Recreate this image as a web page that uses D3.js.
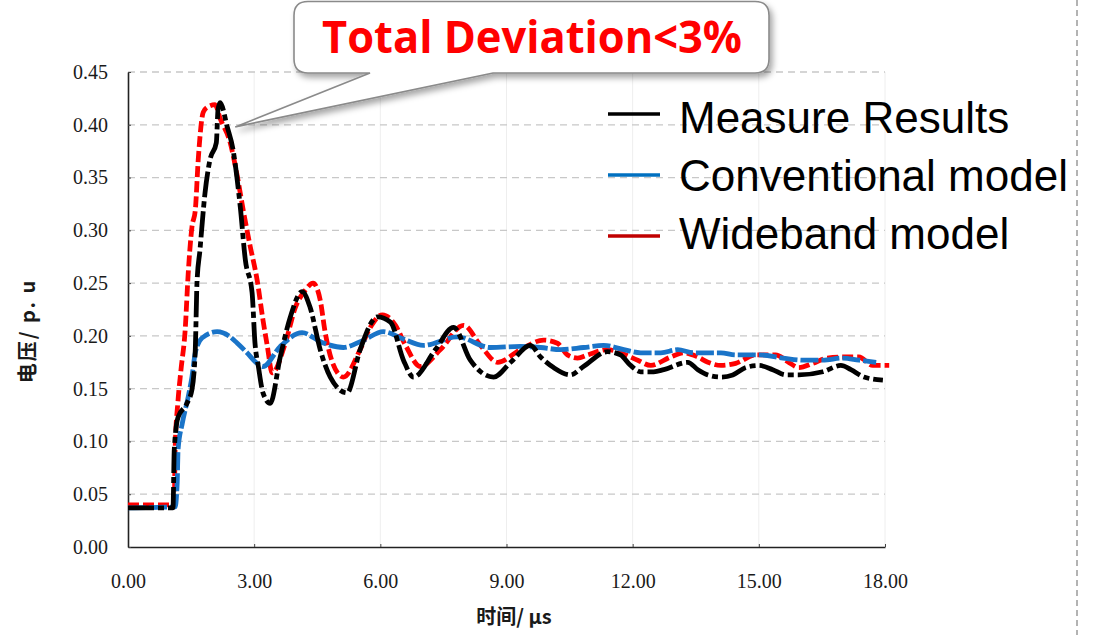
<!DOCTYPE html>
<html>
    <head>
        <meta charset="utf-8">
        <title>Voltage waveform comparison</title>
        <script src="https://cdn.jsdelivr.net/npm/d3@7"></script>
        <style>
body {
    margin: 0;
    background: #fff;
}
svg {
    display: block;
}
svg text {
    cursor: default;
    user-select: none;
}
        </style>
    </head>

    <body>
        <div id="root"></div>

    <script>
        // values: [time in us, voltage in p.u]
        let measure = [
            [0, 0.037], [1.07, 0.037], [1.10, 0.092], [1.19, 0.123], [1.40, 0.136], [1.52, 0.149],
            [1.60, 0.187], [1.64, 0.250], [1.71, 0.281], [1.83, 0.335], [1.95, 0.367], [2.10, 0.383],
            [2.14, 0.414], [2.19, 0.421], [2.36, 0.398], [2.50, 0.376], [2.62, 0.340], [2.67, 0.322],
            [2.79, 0.272], [2.95, 0.241], [3.02, 0.193], [3.10, 0.171], [3.21, 0.146], [3.38, 0.136],
            [3.62, 0.180], [3.86, 0.218], [4.14, 0.242], [4.33, 0.227], [4.57, 0.187], [4.81, 0.161],
            [5.21, 0.146], [5.52, 0.187], [5.93, 0.218], [6.24, 0.213], [6.55, 0.177], [6.79, 0.161],
            [7.31, 0.187], [7.74, 0.208], [8.14, 0.177], [8.69, 0.161], [9.10, 0.175], [9.57, 0.191],
            [9.81, 0.180], [10.12, 0.170], [10.52, 0.163], [10.83, 0.171], [11.40, 0.185], [11.71, 0.182],
            [11.95, 0.172], [12.19, 0.166], [12.50, 0.166], [12.74, 0.168], [13.31, 0.175], [13.55, 0.168],
            [13.79, 0.163], [14.10, 0.161], [14.38, 0.163], [14.69, 0.170], [15.00, 0.172], [15.33, 0.168],
            [15.64, 0.163], [15.95, 0.163], [16.52, 0.166], [16.95, 0.172], [17.19, 0.168], [17.50, 0.161],
            [17.95, 0.158]
        ];

        let conventional = [
            [0, 0.037], [1.12, 0.038], [1.17, 0.061], [1.19, 0.092], [1.29, 0.117], [1.43, 0.142],
            [1.52, 0.161], [1.60, 0.184], [1.76, 0.198], [2.12, 0.204], [2.40, 0.200], [2.60, 0.193],
            [2.83, 0.184], [3.07, 0.174], [3.21, 0.171], [3.62, 0.190], [4.14, 0.203], [4.60, 0.194],
            [5.12, 0.189], [5.60, 0.196], [6.07, 0.204], [6.55, 0.197], [7.02, 0.191], [7.83, 0.199],
            [8.62, 0.189], [9.33, 0.190], [9.81, 0.189], [10.29, 0.187], [10.83, 0.189], [11.31, 0.191],
            [11.79, 0.187], [12.19, 0.184], [12.67, 0.184], [13.07, 0.187], [13.45, 0.184], [14.10, 0.184],
            [14.45, 0.182], [15.00, 0.182], [15.57, 0.179], [16.05, 0.177], [16.52, 0.177], [17.00, 0.179],
            [17.38, 0.177], [17.79, 0.175]
        ];

        let wideband = [
            [0, 0.040], [1.10, 0.040], [1.12, 0.092], [1.19, 0.139], [1.26, 0.168], [1.36, 0.206],
            [1.43, 0.258], [1.52, 0.303], [1.60, 0.319], [1.67, 0.367], [1.79, 0.412], [1.90, 0.417],
            [2.07, 0.419], [2.19, 0.406], [2.43, 0.383], [2.60, 0.351], [2.74, 0.319], [2.90, 0.286],
            [3.07, 0.253], [3.21, 0.215], [3.31, 0.191], [3.43, 0.165], [3.74, 0.193], [3.98, 0.227],
            [4.21, 0.243], [4.40, 0.250], [4.57, 0.234], [4.69, 0.203], [4.86, 0.175], [5.12, 0.161],
            [5.52, 0.187], [5.76, 0.208], [6.05, 0.220], [6.36, 0.210], [6.60, 0.191], [6.95, 0.171],
            [7.43, 0.187], [7.98, 0.210], [8.38, 0.191], [8.79, 0.175], [9.33, 0.187], [9.88, 0.196],
            [10.21, 0.193], [10.45, 0.182], [10.69, 0.179], [10.93, 0.182], [11.40, 0.187], [11.71, 0.184],
            [12.12, 0.177], [12.43, 0.172], [12.90, 0.180], [13.21, 0.184], [13.55, 0.180], [13.79, 0.175],
            [14.10, 0.172], [14.45, 0.174], [14.93, 0.182], [15.40, 0.182], [15.71, 0.175], [15.95, 0.170],
            [16.29, 0.174], [16.62, 0.179], [17.00, 0.180], [17.38, 0.180], [17.71, 0.172], [18.10, 0.172]
        ];

        let time_ticks = [0, 3, 6, 9, 12, 15, 18];
        let volt_ticks = [0, 0.05, 0.10, 0.15, 0.20, 0.25, 0.30, 0.35, 0.40, 0.45];
        let series_names = ['Measure Results', 'Conventional model', 'Wideband model'];
        let callout_text = 'Total Deviation<3%';
        let x_title = '时间/ μs';
        let y_title = '电压/ p. u';

        let width = 1096;
        let height = 635;
        let plot_left = 128, plot_right = 885, plot_top = 72, plot_bottom = 547;

        let scale_x = d3.scaleLinear().domain([0, 18]).range([plot_left, plot_right]);
        let scale_y = d3.scaleLinear().domain([0, 0.45]).range([plot_bottom, plot_top]);

        let svg = d3.select('#root').append('svg')
            .attr('width', width)
            .attr('height', height);

        let defs = svg.append('defs');
        defs.append('filter')
            .attr('id', 'shadow')
            .attr('x', '-10%').attr('y', '-10%')
            .attr('width', '130%').attr('height', '140%')
            .append('feDropShadow')
            .attr('dx', 3).attr('dy', 4)
            .attr('stdDeviation', 3)
            .attr('flood-color', '#000')
            .attr('flood-opacity', 0.35);

        // grid
        svg.append('g')
            .attr('stroke', '#eeeeee')
            .attr('stroke-width', 1)
            .selectAll('line')
            .data(time_ticks.slice(1))
            .join('line')
            .attr('x1', d => scale_x(d)).attr('x2', d => scale_x(d))
            .attr('y1', plot_top).attr('y2', plot_bottom);

        svg.append('g')
            .attr('stroke', '#c8c8c8')
            .attr('stroke-width', 1.3)
            .attr('stroke-dasharray', '7 5')
            .selectAll('line')
            .data(volt_ticks.slice(1))
            .join('line')
            .attr('x1', plot_left).attr('x2', plot_right)
            .attr('y1', d => scale_y(d)).attr('y2', d => scale_y(d));

        // axes
        let axis_x = svg.append('g')
            .attr('transform', `translate(0, ${plot_bottom})`)
            .call(d3.axisBottom(scale_x).tickValues(time_ticks).tickFormat(d3.format('.2f'))
                .tickSizeInner(-3).tickSizeOuter(0).tickPadding(27));
        let axis_y = svg.append('g')
            .attr('transform', `translate(${plot_left}, 0)`)
            .call(d3.axisLeft(scale_y).tickValues(volt_ticks).tickFormat(d3.format('.2f'))
                .tickSizeInner(-3).tickSizeOuter(0).tickPadding(20));

        [axis_x, axis_y].forEach(a => {
            a.select('.domain').attr('stroke', '#222').attr('stroke-width', 1.6);
            a.selectAll('.tick line').attr('stroke', '#444');
            a.selectAll('.tick text')
                .attr('fill', '#1a1a1a')
                .attr('font-family', '"Liberation Serif", "DejaVu Serif", serif')
                .attr('font-size', 20);
        });

        svg.append('text')
            .attr('x', 514)
            .attr('y', 624)
            .attr('text-anchor', 'middle')
            .attr('font-family', '"Noto Sans CJK SC", sans-serif')
            .attr('font-weight', 'bold')
            .attr('font-size', 20)
            .attr('fill', '#1a1a1a')
            .text(x_title);

        svg.append('text')
            .attr('transform', 'translate(35, 331) rotate(-90)')
            .attr('text-anchor', 'middle')
            .attr('font-family', '"Noto Sans CJK SC", sans-serif')
            .attr('font-weight', 'bold')
            .attr('font-size', 20)
            .attr('letter-spacing', 2)
            .attr('fill', '#1a1a1a')
            .text(y_title);

        // curves
        let line = d3.line()
            .x(d => scale_x(d[0]))
            .y(d => scale_y(d[1]))
            .curve(d3.curveMonotoneX);

        let curves = [
            { data: wideband, color: '#ff0000', dash: '11 4' },
            { data: conventional, color: '#1a74c8', dash: '18 3' },
            { data: measure, color: '#000000', dash: '26 4 6 4' }
        ];

        svg.append('g')
            .attr('fill', 'none')
            .selectAll('path')
            .data(curves)
            .join('path')
            .attr('stroke', d => d.color)
            .attr('stroke-width', 4.8)
            .attr('stroke-linejoin', 'round')
            .attr('stroke-dasharray', d => d.dash)
            .attr('d', d => line(d.data));

        // legend
        let legend_colors = ['#000000', '#0070c0', '#c00000'];
        let legend = svg.append('g')
            .selectAll('g')
            .data(series_names)
            .join('g');
        legend.append('line')
            .attr('x1', 608).attr('x2', 660)
            .attr('y1', (d, i) => 114 + i * 61)
            .attr('y2', (d, i) => 114 + i * 61)
            .attr('stroke', (d, i) => legend_colors[i])
            .attr('stroke-width', 3.5);
        legend.append('text')
            .attr('x', 679)
            .attr('y', (d, i) => 133 + i * 58)
            .attr('font-family', '"Liberation Sans", Arial, sans-serif')
            .attr('font-size', 44)
            .attr('fill', '#000')
            .text(d => d);

        // callout
        let tip_x = scale_x(2.55);
        let tip_y = scale_y(0.398);
        let bx0 = 294, by0 = 1.5, bx1 = 769, by1 = 73, r = 14;
        let callout_path = [
            `M${bx0 + r},${by0}`,
            `H${bx1 - r}`,
            `Q${bx1},${by0} ${bx1},${by0 + r}`,
            `V${by1 - r}`,
            `Q${bx1},${by1} ${bx1 - r},${by1}`,
            `H493`,
            `L${tip_x},${tip_y}`,
            `L370,${by1}`,
            `H${bx0 + r}`,
            `Q${bx0},${by1} ${bx0},${by1 - r}`,
            `V${by0 + r}`,
            `Q${bx0},${by0} ${bx0 + r},${by0}`,
            'Z'
        ].join(' ');

        svg.append('path')
            .attr('d', callout_path)
            .attr('fill', '#fff')
            .attr('stroke', '#8a8a8a')
            .attr('stroke-width', 1.6)
            .attr('filter', 'url(#shadow)');

        svg.append('text')
            .attr('x', 322)
            .attr('y', 53)
            .attr('font-family', '"Open Sans", "Noto Sans", sans-serif')
            .attr('font-weight', 'bold')
            .attr('font-size', 44)
            .attr('textLength', 420)
            .attr('lengthAdjust', 'spacingAndGlyphs')
            .attr('fill', '#ff0000')
            .text(callout_text);

        // right side page divider
        svg.append('line')
            .attr('x1', 1077).attr('x2', 1077)
            .attr('y1', 0).attr('y2', height)
            .attr('stroke', '#9a9a9a')
            .attr('stroke-width', 1.5)
            .attr('stroke-dasharray', '6 4');
    </script>
    </body>
</html>
